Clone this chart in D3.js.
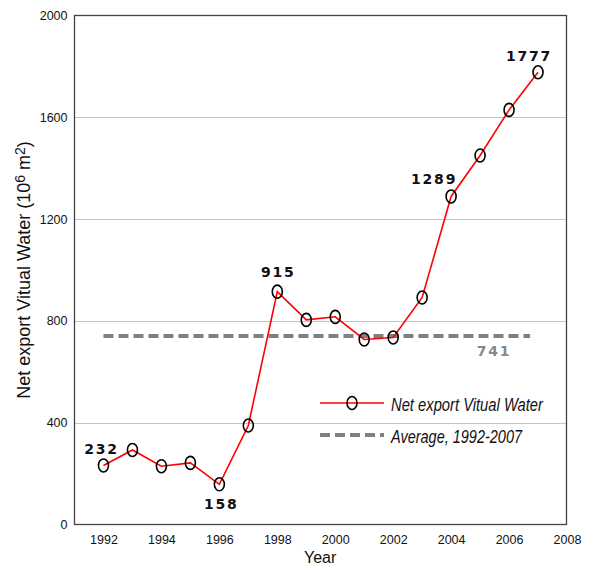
<!DOCTYPE html>
<html>
<head>
<meta charset="utf-8">
<script src="https://cdn.jsdelivr.net/npm/d3@7"></script>
<style>
  body { margin: 0; background: #fff; }
  svg { display: block; }
  .tick text { font-family: "Liberation Sans Narrow", "Arial Narrow", "Liberation Sans", Arial, sans-serif; }
</style>
</head>
<body>
<svg id="chart" width="589" height="566"></svg>
<script>
// Net virtual water export, 1992-2007
const years = [1992, 1993, 1994, 1995, 1996, 1997, 1998, 1999, 2000, 2001, 2002, 2003, 2004, 2005, 2006, 2007];
const netExport = [232, 293, 229, 242, 158, 389, 915, 804, 816, 727, 735, 892, 1289, 1450, 1629, 1777];
const average = 741;
const averageSpan = [1992, 2007];
const xTicks = [1992, 1994, 1996, 1998, 2000, 2002, 2004, 2006, 2008];
const yTicks = [0, 400, 800, 1200, 1600, 2000];
const labelledYears = [1992, 1996, 1998, 2004, 2007];

const svg = d3.select("#chart");
const plot = { left: 74.5, right: 566.5, top: 15.5, bottom: 524.5 };

const x = d3.scaleLinear().domain([1991, 2008]).range([plot.left, plot.right + 0.5]);
const y = d3.scaleLinear().domain([0, 2000]).range([plot.bottom, plot.top]);

// gridlines
svg.append("g")
  .selectAll("line")
  .data(yTicks.filter(d => d > 0 && d < 2000))
  .join("line")
  .attr("x1", plot.left).attr("x2", plot.right)
  .attr("y1", d => Math.round(y(d)) + 0.5).attr("y2", d => Math.round(y(d)) + 0.5)
  .attr("stroke", "#c4c4c4").attr("stroke-width", 1);

// frame
svg.append("rect")
  .attr("x", plot.left).attr("y", plot.top)
  .attr("width", plot.right - plot.left).attr("height", plot.bottom - plot.top)
  .attr("fill", "none").attr("stroke", "#444").attr("stroke-width", 1.3);

// axes
const xAxis = d3.axisBottom(x).tickValues(xTicks).tickSize(0).tickPadding(11).tickFormat(d3.format("d"));
const gx = svg.append("g").attr("transform", `translate(0,${plot.bottom})`).call(xAxis);
gx.select(".domain").remove();
gx.selectAll("text").attr("font-size", 12.5).attr("fill", "#111");

const yAxis = d3.axisLeft(y).tickValues(yTicks).tickSize(0).tickPadding(7).tickFormat(d3.format("d"));
const gy = svg.append("g").attr("transform", `translate(${plot.left},0)`).call(yAxis);
gy.select(".domain").remove();
gy.selectAll("text").attr("font-size", 12.5).attr("fill", "#111");

// axis titles
svg.append("text")
  .attr("x", 304).attr("y", 563)
  .attr("font-family", "Liberation Sans, Arial, sans-serif")
  .attr("font-size", 16).attr("fill", "#111")
  .text("Year");

const yTitle = svg.append("text")
  .attr("transform", "translate(30,270) rotate(-90)")
  .attr("text-anchor", "middle")
  .attr("font-family", "Liberation Sans, Arial, sans-serif")
  .attr("font-size", 18).attr("fill", "#111");
yTitle.append("tspan").text("Net export Vitual Water (10");
yTitle.append("tspan").attr("font-size", 14).attr("dy", -5).text("6");
yTitle.append("tspan").attr("dy", 5).text(" m");
yTitle.append("tspan").attr("font-size", 14).attr("dy", -5).text("2");
yTitle.append("tspan").attr("dy", 5).text(")");

// average line
svg.append("line")
  .attr("x1", x(averageSpan[0])).attr("x2", x(averageSpan[1]) - 8)
  .attr("y1", y(average)).attr("y2", y(average))
  .attr("stroke", "#808080").attr("stroke-width", 4)
  .attr("stroke-dasharray", "10,5");

svg.append("text")
  .attr("x", 494).attr("y", 356)
  .attr("text-anchor", "middle")
  .attr("font-family", "DejaVu Sans, sans-serif").attr("font-weight", "bold")
  .attr("font-size", 14).attr("letter-spacing", 1.8).attr("fill", "#888")
  .text(average);

// series line
const pts = years.map((yr, i) => ({ yr, v: netExport[i] }));
svg.append("path")
  .datum(pts)
  .attr("fill", "none").attr("stroke", "#ff0000").attr("stroke-width", 1.6)
  .attr("d", d3.line().x(d => x(d.yr)).y(d => y(d.v)));

svg.append("g")
  .selectAll("ellipse")
  .data(pts)
  .join("ellipse")
  .attr("cx", d => x(d.yr)).attr("cy", d => y(d.v))
  .attr("rx", 5).attr("ry", 6.5)
  .attr("fill", "none").attr("stroke", "#000").attr("stroke-width", 1.6);

// value labels
const labelOffsets = {
  1992: [-2, -11],
  1996: [2, 25],
  1998: [1, -15],
  2004: [-17, -12],
  2007: [-9, -11]
};
svg.append("g")
  .selectAll("text")
  .data(pts.filter(d => labelledYears.includes(d.yr)))
  .join("text")
  .attr("x", d => x(d.yr) + labelOffsets[d.yr][0])
  .attr("y", d => y(d.v) + labelOffsets[d.yr][1])
  .attr("text-anchor", "middle")
  .attr("font-family", "DejaVu Sans, sans-serif").attr("font-weight", "bold")
  .attr("font-size", 14).attr("letter-spacing", 1.8).attr("fill", "#111")
  .text(d => d.v);

// legend
const legend = svg.append("g");
const legendFont = "Liberation Sans Narrow, Arial Narrow, Liberation Sans, sans-serif";
legend.append("line")
  .attr("x1", 320).attr("x2", 384).attr("y1", 403).attr("y2", 403)
  .attr("stroke", "#ff0000").attr("stroke-width", 1.6);
legend.append("ellipse")
  .attr("cx", 352).attr("cy", 403).attr("rx", 5).attr("ry", 6.5)
  .attr("fill", "none").attr("stroke", "#000").attr("stroke-width", 1.6);
legend.append("text")
  .attr("x", 391).attr("y", 411)
  .attr("font-family", legendFont)
  .attr("font-style", "italic").attr("font-size", 18).attr("fill", "#111")
  .attr("textLength", 152).attr("lengthAdjust", "spacingAndGlyphs")
  .text("Net export Vitual Water");
legend.append("line")
  .attr("x1", 320).attr("x2", 384).attr("y1", 435).attr("y2", 435)
  .attr("stroke", "#808080").attr("stroke-width", 4)
  .attr("stroke-dasharray", "10,5");
legend.append("text")
  .attr("x", 391).attr("y", 443)
  .attr("font-family", legendFont)
  .attr("font-style", "italic").attr("font-size", 18).attr("fill", "#111")
  .attr("textLength", 131).attr("lengthAdjust", "spacingAndGlyphs")
  .text("Average, 1992-2007");
</script>
</body>
</html>
